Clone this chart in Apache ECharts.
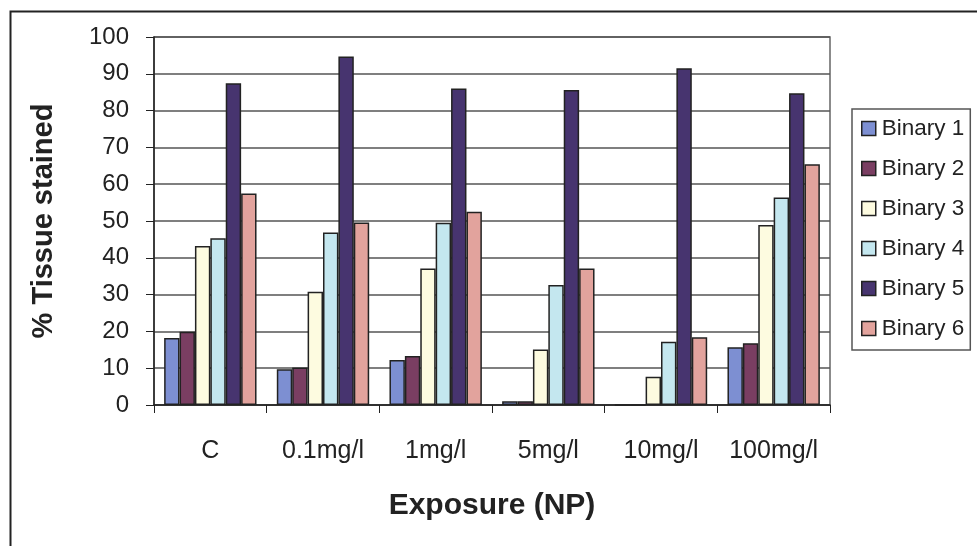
<!DOCTYPE html>
<html>
<head>
<meta charset="utf-8">
<script src="https://cdn.jsdelivr.net/npm/echarts@6/dist/echarts.min.js"></script>
<style>
  html, body { margin: 0; padding: 0; background: #fff; }
  #chart { width: 977px; height: 546px; }
</style>
</head>
<body>
<div id="chart"></div>
<script>
// categories and series
const categories = ['C', '0.1mg/l', '1mg/l', '5mg/l', '10mg/l', '100mg/l'];
const binary1 = [18.2, 9.7, 12.2, 1, 0, 15.7];
const binary2 = [19.9, 10.2, 13.3, 1, 0, 16.8];
const binary3 = [43.2, 30.8, 37.1, 15.1, 7.7, 48.9];
const binary4 = [45.3, 46.9, 49.5, 32.6, 17.2, 56.4];
const binary5 = [87.4, 94.7, 86.0, 85.6, 91.5, 84.7];
const binary6 = [57.5, 49.6, 52.5, 37.1, 18.4, 65.4];
const seriesNames = ['Binary 1', 'Binary 2', 'Binary 3', 'Binary 4', 'Binary 5', 'Binary 6'];
const seriesData = [binary1, binary2, binary3, binary4, binary5, binary6];
const colors = ['#7d8fd2', '#7a3e62', '#fdfbe0', '#c4e7ef', '#47346f', '#e2a39d'];

const font = '"Liberation Sans", Arial, sans-serif';
const ink = '#222';

const chart = echarts.init(document.getElementById('chart'));

const option = {
  animation: false,
  backgroundColor: '#fff',
  color: colors,
  graphic: [{
    // outer chart frame
    type: 'rect',
    left: 8, top: 9,
    shape: { width: 1000, height: 600 },
    style: { fill: 'none', stroke: ink, lineWidth: 2 },
    silent: true
  }],
  grid: {
    left: 154, right: 147, top: 37, bottom: 141,
    show: true, borderColor: '#666', borderWidth: 1.5, backgroundColor: 'transparent'
  },
  legend: {
    orient: 'vertical',
    left: 852, top: 109,
    padding: [8, 6, 10, 9],
    itemWidth: 14, itemHeight: 14, itemGap: 17,
    icon: 'rect',
    borderColor: '#555', borderWidth: 1.5,
    itemStyle: { borderColor: ink, borderWidth: 1.5 },
    textStyle: { fontFamily: font, fontSize: 22.5, color: ink, padding: [0, 0, 0, 1] },
    data: seriesNames
  },
  xAxis: {
    type: 'category',
    data: categories,
    name: 'Exposure (NP)',
    nameLocation: 'middle',
    nameGap: 86,
    nameTextStyle: { fontFamily: font, fontSize: 30, fontWeight: 'bold', color: ink },
    axisLine: { lineStyle: { color: ink, width: 1.5 } },
    axisTick: { show: true, interval: 0, inside: false, length: 8, alignWithLabel: false, lineStyle: { color: ink } },
    axisLabel: { interval: 0, hideOverlap: false, fontFamily: font, fontSize: 25, color: ink, margin: 34 },
    splitLine: { show: false }
  },
  yAxis: {
    type: 'value',
    min: 0, max: 100, interval: 10,
    name: '% Tissue stained',
    nameLocation: 'middle',
    nameGap: 96,
    nameTextStyle: { fontFamily: font, fontSize: 29, fontWeight: 'bold', color: ink },
    axisLine: { show: true, lineStyle: { color: ink, width: 1.5 } },
    axisTick: { show: true, length: 8, lineStyle: { color: ink } },
    axisLabel: { fontFamily: font, fontSize: 24, color: ink, margin: 25 },
    splitLine: { lineStyle: { color: '#555', width: 1.5 } }
  },
  series: seriesData.map((d, i) => ({
    name: seriesNames[i],
    type: 'bar',
    data: d,
    barGap: '0%',
    barCategoryGap: '18%',
    itemStyle: { color: colors[i], borderColor: ink, borderWidth: 1.5 }
  }))
};

chart.setOption(option);
</script>
</body>
</html>
